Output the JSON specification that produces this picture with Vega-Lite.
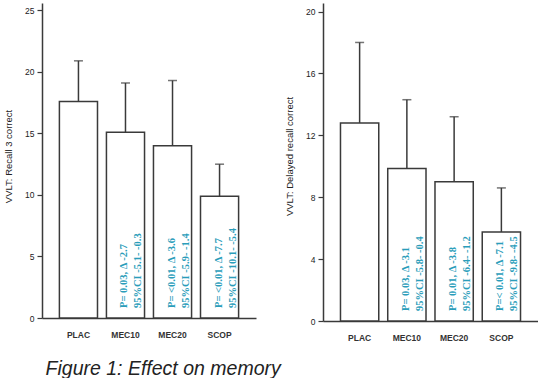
{
  "$schema": "https://vega.github.io/schema/vega-lite/v6.json",
  "background": "white",
  "padding": {"left": 3, "top": 3, "right": 0, "bottom": 0},
  "spacing": 28,
  "title": {
    "text": "Figure 1: Effect on memory",
    "orient": "bottom",
    "anchor": "start",
    "font": "Liberation Sans",
    "fontSize": 19.5,
    "fontStyle": "italic",
    "fontWeight": "normal",
    "color": "#222222",
    "offset": 18,
    "dx": 42
  },
  "datasets": {
    "recall": [
      {"group": "PLAC", "mean": 17.6, "upper": 20.9, "label": ""},
      {"group": "MEC10", "mean": 15.1, "upper": 19.1, "label": "P= 0.03, Δ -2.7\n95%CI -5.1- -0.3"},
      {"group": "MEC20", "mean": 14.0, "upper": 19.3, "label": "P= <0.01, Δ -3.6\n95%CI -5.9- -1.4"},
      {"group": "SCOP", "mean": 9.9, "upper": 12.5, "label": "P= <0.01, Δ -7.7\n95%CI -10.1- -5.4"}
    ],
    "delayed": [
      {"group": "PLAC", "mean": 12.8, "upper": 18.0, "label": ""},
      {"group": "MEC10", "mean": 9.85, "upper": 14.3, "label": "P= 0.03, Δ -3.1\n95%CI -5.8- -0.4"},
      {"group": "MEC20", "mean": 9.0, "upper": 13.2, "label": "P= 0.01, Δ -3.8\n95%CI -6.4- -1.2"},
      {"group": "SCOP", "mean": 5.75, "upper": 8.6, "label": "P=< 0.01, Δ -7.1\n95%CI -9.8- -4.5"}
    ]
  },
  "hconcat": [
    {
      "width": 214,
      "height": 315,
      "data": {"name": "recall"},
      "encoding": {
        "x": {
          "field": "group", "type": "nominal", "sort": null,
          "scale": {"type": "band", "paddingInner": 0.19, "paddingOuter": 0.37},
          "axis": {"title": null, "ticks": false, "labelAngle": 0, "labelPadding": 12}
        }
      },
      "layer": [
        {
          "mark": {"type": "bar", "fill": "white", "stroke": "#3a3a3a", "strokeWidth": 1.5},
          "encoding": {
            "y": {
              "field": "mean", "type": "quantitative",
              "scale": {"domain": [0, 25.6], "nice": false, "zero": true},
              "axis": {
                "title": "VVLT: Recall 3 correct",
                "values": [0, 2.5, 5, 7.5, 10, 12.5, 15, 17.5, 20, 22.5, 25],
                "labelExpr": "datum.value % 5 == 0 ? datum.label : ''",
                "titleY": 153
              }
            }
          }
        },
        {
          "mark": {"type": "rule", "color": "#3a3a3a", "strokeWidth": 1.5},
          "encoding": {"y": {"field": "mean", "type": "quantitative"}, "y2": {"field": "upper"}}
        },
        {
          "mark": {"type": "tick", "orient": "horizontal", "size": 9, "thickness": 1.5, "color": "#3a3a3a"},
          "encoding": {"y": {"field": "upper", "type": "quantitative"}}
        },
        {
          "mark": {"type": "text", "angle": 270, "align": "left", "baseline": "middle", "dx": 10, "dy": -1, "font": "Liberation Serif", "fontSize": 10.5, "fontWeight": "bold", "lineHeight": 14, "lineBreak": "\n", "color": "#2a9dba"},
          "encoding": {"y": {"datum": 0, "type": "quantitative"}, "text": {"field": "label"}}
        }
      ]
    },
    {
      "width": 215,
      "height": 318,
      "data": {"name": "delayed"},
      "encoding": {
        "x": {
          "field": "group", "type": "nominal", "sort": null,
          "scale": {"type": "band", "paddingInner": 0.19, "paddingOuter": 0.37},
          "axis": {"title": null, "ticks": false, "labelAngle": 0, "labelPadding": 12}
        }
      },
      "layer": [
        {
          "mark": {"type": "bar", "fill": "white", "stroke": "#3a3a3a", "strokeWidth": 1.5},
          "encoding": {
            "y": {
              "field": "mean", "type": "quantitative",
              "scale": {"domain": [0, 20.55], "nice": false, "zero": true},
              "axis": {
                "title": "VVLT: Delayed recall correct",
                "values": [0, 2, 4, 6, 8, 10, 12, 14, 16, 18, 20],
                "labelExpr": "datum.value % 4 == 0 ? datum.label : ''",
                "titleY": 153
              }
            }
          }
        },
        {
          "mark": {"type": "rule", "color": "#3a3a3a", "strokeWidth": 1.5},
          "encoding": {"y": {"field": "mean", "type": "quantitative"}, "y2": {"field": "upper"}}
        },
        {
          "mark": {"type": "tick", "orient": "horizontal", "size": 9, "thickness": 1.5, "color": "#3a3a3a"},
          "encoding": {"y": {"field": "upper", "type": "quantitative"}}
        },
        {
          "mark": {"type": "text", "angle": 270, "align": "left", "baseline": "middle", "dx": 10, "dy": -1, "font": "Liberation Serif", "fontSize": 10.5, "fontWeight": "bold", "lineHeight": 14, "lineBreak": "\n", "color": "#2a9dba"},
          "encoding": {"y": {"datum": 0, "type": "quantitative"}, "text": {"field": "label"}}
        }
      ]
    }
  ],
  "config": {
    "view": {"stroke": null},
    "axis": {
      "grid": false,
      "domainColor": "#3a3a3a",
      "domainWidth": 1.5,
      "tickColor": "#3a3a3a",
      "tickWidth": 1.2,
      "tickSize": 5,
      "labelFont": "Liberation Sans",
      "labelFontSize": 8.5,
      "labelColor": "#222222",
      "titleFont": "Liberation Sans",
      "titleFontSize": 9.5,
      "titleFontWeight": "normal",
      "titleColor": "#222222",
      "labelPadding": 3,
      "titlePadding": 11
    },
    "axisX": {"labelFontWeight": "bold", "labelFontSize": 8.5, "labelColor": "#333333"}
  }
}
